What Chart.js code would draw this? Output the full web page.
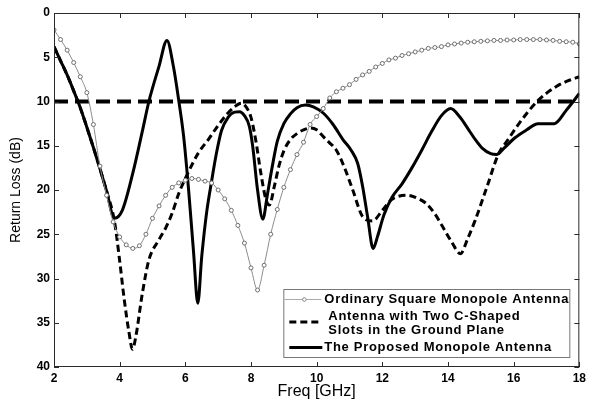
<!DOCTYPE html>
<html>
<head>
<meta charset="utf-8">
<script src="https://cdn.jsdelivr.net/npm/chart.js@4"></script>
<style>
  body { margin: 0; background: #fff; }
</style>
</head>
<body>
<canvas id="chart" width="590" height="405"></canvas>
<script>
// Ordinary square monopole (thin grey line with circles)
const squareFreq = [2.0, 2.2, 2.4, 2.6, 2.8, 3.0, 3.2, 3.4, 3.6, 3.8, 4.0, 4.2, 4.4, 4.6, 4.8, 5.0, 5.2, 5.4, 5.6, 5.8,
  6.0, 6.2, 6.4, 6.6, 6.8, 7.0, 7.2, 7.4, 7.6, 7.8, 8.0, 8.2, 8.4, 8.6, 8.8, 9.0, 9.2, 9.4, 9.6, 9.8,
  10.0, 10.2, 10.4, 10.6, 10.8, 11.0, 11.2, 11.4, 11.6, 11.8, 12.0, 12.2, 12.4, 12.6, 12.8, 13.0, 13.2, 13.4, 13.6, 13.8,
  14.0, 14.2, 14.4, 14.6, 14.8, 15.0, 15.2, 15.4, 15.6, 15.8, 16.0, 16.2, 16.4, 16.6, 16.8, 17.0, 17.2, 17.4, 17.6, 17.8, 18.0];
const squareLoss = [1.9, 3.0, 4.2, 5.6, 7.2, 9.0, 12.6, 17.3, 20.6, 23.6, 25.3, 26.2, 26.6, 26.3, 25.0, 23.2, 21.8, 20.6, 19.7, 19.2,
  18.9, 18.7, 18.8, 19.0, 19.2, 20.0, 21.0, 22.3, 24.0, 26.0, 28.8, 31.3, 28.5, 25.0, 22.2, 19.7, 17.7, 16.0, 14.6, 12.6,
  11.7, 10.8, 9.6, 8.9, 8.5, 8.1, 7.5, 7.0, 6.6, 6.1, 5.7, 5.3, 5.1, 4.8, 4.6, 4.4, 4.2, 4.0, 3.9, 3.8,
  3.6, 3.5, 3.4, 3.3, 3.25, 3.2, 3.15, 3.1, 3.1, 3.05, 3.05, 3.0, 3.0, 3.0, 3.0, 3.05, 3.1, 3.2, 3.25, 3.3, 3.5];

// Antenna with two C-shaped slots (dashed)
const slotFreq = [2.0, 2.2, 2.4, 2.6, 2.8, 3.0, 3.2, 3.4, 3.6, 3.84, 4.0, 4.14, 4.28, 4.39, 4.49, 4.69, 4.89, 5.2, 5.4, 5.6,
  5.8, 6.05, 6.4, 6.7, 7.0, 7.3, 7.5, 7.7, 7.85, 8.0, 8.15, 8.3, 8.45, 8.56, 8.71, 8.85, 9.01, 9.2, 9.41, 9.6,
  9.81, 10.0, 10.21, 10.4, 10.6, 10.85, 11.1, 11.4, 11.7, 12.0, 12.27, 12.5, 12.77, 13.05, 13.33, 13.6, 13.83, 14.1, 14.38, 14.6,
  14.83, 15.2, 15.53, 15.83, 16.2, 16.74, 17.3, 17.7, 18.0];
const slotLoss = [3.8, 5.4, 7.0, 8.8, 10.7, 12.9, 15.2, 17.6, 20.1, 23.5, 28.0, 32.4, 36.0, 38.0, 36.6, 31.7, 27.9, 25.6, 24.3, 22.6,
  20.4, 18.3, 15.8, 14.3, 12.7, 11.3, 10.6, 10.2, 10.6, 11.8, 14.5, 18.1, 21.0, 21.7, 19.6, 17.3, 15.5, 14.3, 13.6, 13.2,
  13.0, 13.2, 14.0, 14.7, 15.5, 17.5, 20.0, 23.0, 23.5, 22.3, 21.1, 20.7, 20.6, 20.9, 21.5, 22.7, 24.1, 25.8, 27.2, 25.5,
  23.4, 19.5, 16.0, 14.3, 12.3, 9.9, 8.3, 7.6, 7.2];

// Proposed monopole (thick solid)
const proposedFreq = [2.0, 2.2, 2.4, 2.6, 2.8, 3.0, 3.2, 3.4, 3.6, 3.84, 4.08, 4.4, 4.7, 4.89, 5.2, 5.44, 5.64, 5.8, 5.95, 6.1,
  6.25, 6.38, 6.5, 6.65, 6.8, 6.95, 7.1, 7.3, 7.5, 7.65, 7.8, 7.95, 8.05, 8.2, 8.36, 8.5, 8.65, 8.8, 9.0, 9.2,
  9.4, 9.66, 9.9, 10.2, 10.5, 10.8, 11.05, 11.25, 11.4, 11.55, 11.72, 11.85, 12.05, 12.3, 12.6, 12.9, 13.2, 13.5, 13.8, 14.08,
  14.35, 14.63, 14.85, 15.05, 15.3, 15.48, 15.7, 16.04, 16.4, 16.74, 17.24, 17.6, 18.0];
const proposedLoss = [3.8, 5.4, 7.0, 8.8, 10.7, 12.9, 15.2, 17.6, 20.1, 23.2, 22.3, 18.1, 13.2, 10.0, 6.0, 3.1, 6.1, 9.9, 14.0, 20.0,
  27.0, 32.8, 27.5, 22.5, 19.0, 15.8, 13.3, 11.8, 11.2, 11.15, 11.6, 12.8, 15.0, 20.0, 23.3, 20.5, 17.3, 14.5, 12.5, 11.4,
  10.7, 10.4, 10.6, 11.3, 12.6, 14.3, 15.5, 17.0, 19.6, 23.0, 26.6, 25.3, 22.8, 20.8, 19.3, 17.5, 15.5, 13.4, 11.6, 10.8,
  11.7, 13.2, 14.4, 15.3, 15.9, 16.0, 15.3, 14.1, 13.2, 12.5, 12.5, 11.0, 9.1];

// -10 dB reference line
const limitFreq = [2, 18];
const limitLoss = [10, 10];

const seriesLabels = [
  "Ordinary Square Monopole Antenna",
  "Antenna with Two C-Shaped\nSlots in the Ground Plane",
  "The Proposed Monopole Antenna",
];

const FONT = "'Liberation Sans', Arial, sans-serif";

function toPoints(xs, ys) {
  return xs.map((x, i) => ({ x: x, y: ys[i] }));
}

// draws the frame, inward ticks and the boxed legend
const framePlugin = {
  id: "frame",
  afterDraw(chart) {
    const { ctx, chartArea: area } = chart;
    const xs = chart.scales.x;
    const ys = chart.scales.y;
    ctx.save();
    ctx.strokeStyle = "#2a2a2a";
    ctx.lineWidth = 1;
    ctx.strokeRect(area.left + 0.5, area.top + 0.5, area.right - area.left - 1, area.bottom - area.top - 1);
    ctx.beginPath();
    xs.ticks.forEach((t) => {
      const px = Math.round(xs.getPixelForValue(t.value)) + 0.5;
      ctx.moveTo(px, area.bottom);
      ctx.lineTo(px, area.bottom - 5);
      ctx.moveTo(px, area.top);
      ctx.lineTo(px, area.top + 5);
    });
    ys.ticks.forEach((t) => {
      const py = Math.round(ys.getPixelForValue(t.value)) + 0.5;
      ctx.moveTo(area.left, py);
      ctx.lineTo(area.left + 5, py);
      ctx.moveTo(area.right, py);
      ctx.lineTo(area.right - 5, py);
    });
    ctx.stroke();

    // legend box
    const w = 286, h = 68;
    const bx = area.right - 10 - w;
    const by = area.bottom - 10 - h;
    ctx.fillStyle = "#fff";
    ctx.fillRect(bx, by, w, h);
    ctx.strokeStyle = "#777";
    ctx.strokeRect(bx + 0.5, by + 0.5, w, h);

    ctx.font = "bold 13px " + FONT;
    ctx.letterSpacing = "0.7px";
    ctx.fillStyle = "#000";
    ctx.textBaseline = "middle";
    ctx.textAlign = "left";

    // row 1
    ctx.strokeStyle = "#aaa";
    ctx.lineWidth = 1;
    ctx.beginPath();
    ctx.moveTo(bx + 1, by + 10.5);
    ctx.lineTo(bx + 38, by + 10.5);
    ctx.stroke();
    ctx.strokeStyle = "#888";
    ctx.beginPath();
    ctx.arc(bx + 21, by + 10.5, 1.8, 0, Math.PI * 2);
    ctx.fillStyle = "#fff";
    ctx.fill();
    ctx.stroke();
    ctx.fillStyle = "#000";
    ctx.fillText(seriesLabels[0], bx + 41, by + 10.5);

    // row 2
    ctx.strokeStyle = "#000";
    ctx.lineWidth = 3;
    ctx.setLineDash([7, 4]);
    ctx.beginPath();
    ctx.moveTo(bx + 6, by + 33);
    ctx.lineTo(bx + 37, by + 33);
    ctx.stroke();
    ctx.setLineDash([]);
    const lines = seriesLabels[1].split("\n");
    ctx.fillText(lines[0], bx + 45, by + 27.5);
    ctx.fillText(lines[1], bx + 45, by + 41.5);

    // row 3
    ctx.beginPath();
    ctx.moveTo(bx + 6, by + 58.5);
    ctx.lineTo(bx + 39, by + 58.5);
    ctx.stroke();
    ctx.fillText(seriesLabels[2], bx + 41, by + 58.5);
    ctx.restore();
  },
};

new Chart(document.getElementById("chart"), {
  type: "line",
  data: {
    datasets: [
      {
        label: seriesLabels[0],
        data: toPoints(squareFreq, squareLoss),
        borderColor: "#8c8c8c",
        borderWidth: 1,
        pointRadius: 2,
        pointBorderWidth: 1,
        pointBorderColor: "#6e6e6e",
        pointBackgroundColor: "#fff",
        cubicInterpolationMode: "monotone",
      },
      {
        label: seriesLabels[1],
        data: toPoints(slotFreq, slotLoss),
        borderColor: "#000",
        borderWidth: 3,
        borderDash: [7, 4],
        pointRadius: 0,
        cubicInterpolationMode: "monotone",
      },
      {
        label: seriesLabels[2],
        data: toPoints(proposedFreq, proposedLoss),
        borderColor: "#000",
        borderWidth: 3,
        pointRadius: 0,
        cubicInterpolationMode: "monotone",
      },
      {
        label: "",
        data: toPoints(limitFreq, limitLoss),
        borderColor: "#000",
        borderWidth: 4,
        borderDash: [14, 7],
        pointRadius: 0,
      },
    ],
  },
  options: {
    responsive: false,
    animation: false,
    devicePixelRatio: 1,
    layout: { padding: { top: 13, right: 5, left: 0, bottom: 0 } },
    plugins: {
      legend: { display: false },
      tooltip: { enabled: false },
    },
    scales: {
      x: {
        type: "linear",
        min: 2,
        max: 18,
        grid: { display: false, drawTicks: false },
        border: { display: false },
        ticks: {
          stepSize: 2,
          padding: 4,
          color: "#000",
          font: { family: FONT, size: 12, weight: "bold" },
        },
        title: {
          display: true,
          text: "Freq [GHz]",
          color: "#000",
          font: { family: FONT, size: 16 },
          padding: { top: 0, bottom: 4 },
        },
        afterFit: (scale) => {
          scale.height = 38;
        },
      },
      y: {
        type: "linear",
        reverse: true,
        min: 0,
        max: 40,
        grid: { display: false, drawTicks: false },
        border: { display: false },
        ticks: {
          stepSize: 5,
          padding: 4,
          color: "#000",
          font: { family: FONT, size: 12, weight: "bold" },
        },
        title: {
          display: true,
          text: "Return Loss (dB)",
          color: "#000",
          font: { family: FONT, size: 14 },
          padding: { top: 8, bottom: 0 },
        },
        afterFit: (scale) => {
          scale.width = 54;
        },
      },
    },
  },
  plugins: [framePlugin],
});
</script>
</body>
</html>
